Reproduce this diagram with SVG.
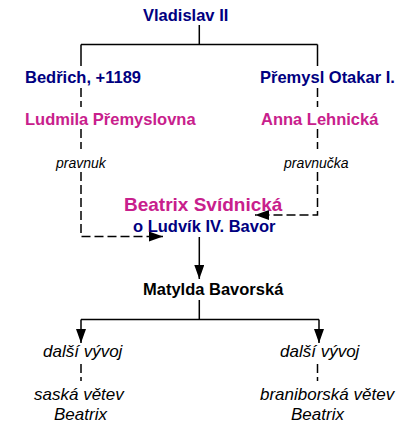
<svg xmlns="http://www.w3.org/2000/svg" width="412" height="433" viewBox="0 0 412 433">
<defs>
<style>
text{font-family:"Liberation Sans",Arial,sans-serif}
.b{font-weight:bold;font-size:16.5px}
.navy{fill:#000080}
.mag{fill:#c8208c}
.blk{fill:#000}
.it{font-style:italic;font-size:17px;fill:#000}
.sm{font-style:italic;font-size:14px;fill:#000}
.ln{stroke:#000;stroke-width:1.5;fill:none}
.ds{stroke:#000;stroke-width:1.5;fill:none;stroke-dasharray:9,4}
</style>
<marker id="ah" viewBox="0 0 14 10" refX="14" refY="5" markerWidth="14" markerHeight="10" markerUnits="userSpaceOnUse" orient="auto">
<path d="M0,0 L14,5 L0,10 Z" fill="#000"/>
</marker>
</defs>
<rect width="412" height="433" fill="#fff"/>
<g id="connectors">
<path class="ln" d="M199.3,25 V44.5 M81,44.5 H317.5 M81,44.5 V66 M317.5,44.5 V66"/>
<path class="ds" d="M81,88 V107 M81,129 V149 M317.5,88 V107 M317.5,129 V149"/>
<path class="ds" d="M81,172 V236.5 H163" marker-end="url(#ah)"/>
<path class="ds" d="M317.5,172 V215 H255" marker-end="url(#ah)"/>
<path class="ln" d="M199.3,237 V279" marker-end="url(#ah)"/>
<path class="ln" d="M199.3,300 V319.5 M81,319.5 H319"/>
<path class="ln" d="M81,319.5 V343" marker-end="url(#ah)"/>
<path class="ln" d="M319,319.5 V343" marker-end="url(#ah)"/>
<path class="ds" d="M81,364 V381 M317.5,364 V381"/>
</g>
<g id="vladislav"><text class="b navy" x="143" y="21">Vladislav II</text></g>
<g id="bedrich"><text class="b navy" x="25" y="83">Bedřich, +1189</text></g>
<g id="premysl"><text class="b navy" x="260" y="83">Přemysl Otakar I.</text></g>
<g id="ludmila"><text class="b mag" x="25" y="125">Ludmila Přemyslovna</text></g>
<g id="anna"><text class="b mag" x="261" y="125">Anna Lehnická</text></g>
<g id="pravnuk"><text class="sm" x="56" y="168">pravnuk</text></g>
<g id="pravnucka"><text class="sm" x="284" y="168">pravnučka</text></g>
<g id="beatrix"><text class="mag" x="124" y="211" style="font-weight:bold;font-size:19px">Beatrix Svídnická</text><text class="b navy" x="133" y="232">o Ludvík IV. Bavor</text></g>
<g id="matylda"><text class="b blk" x="143" y="295">Matylda Bavorská</text></g>
<g id="dalsi-left"><text class="it" x="43" y="357">další vývoj</text></g>
<g id="dalsi-right"><text class="it" x="280" y="357">další vývoj</text></g>
<g id="saska"><text class="it" x="34" y="400">saská větev</text><text class="it" x="54" y="420">Beatrix</text></g>
<g id="braniborska"><text class="it" x="260" y="400">braniborská větev</text><text class="it" x="291" y="420">Beatrix</text></g>
</svg>
